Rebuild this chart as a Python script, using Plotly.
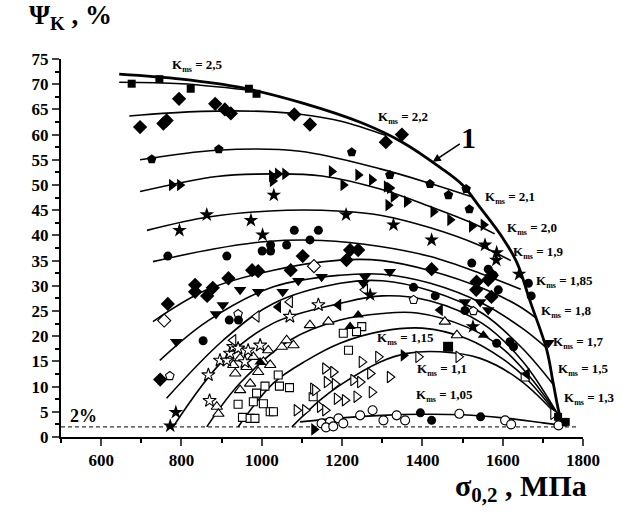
import plotly.graph_objects as go

FONT = "Liberation Serif, Times New Roman, serif"

# ---- envelope curve "1" ----
env_x = [645, 800, 950, 1100, 1250, 1350, 1444, 1500, 1544, 1600, 1636, 1668, 1710, 1726, 1743, 1752]
env_y = [72, 71, 69.3, 66.3, 62.3, 58.5, 53.5, 50, 45.5, 39.5, 34.5, 27, 17.2, 10.6, 4, 2.3]

# ---- K_ms curves ----
c1_x = [645, 800, 960]
c1_y = [70.4, 70.1, 68.9]
c2_x = [670, 850, 1000, 1100, 1200, 1310]
c2_y = [63.7, 64.6, 64.6, 64, 62.6, 59.8]
c3_x = [697, 888, 1095, 1295, 1420, 1525]
c3_y = [55, 56.9, 56.7, 53.2, 50.3, 47.6]
c4_x = [697, 888, 1030, 1150, 1295, 1420, 1520, 1580]
c4_y = [48.7, 51.7, 52.2, 51.8, 49.2, 45.7, 42.6, 40.3]
c5_x = [714, 871, 1062, 1200, 1295, 1420, 1543, 1620]
c5_y = [41, 43.7, 45, 44.8, 44, 41.5, 38, 35]
c6_x = [729, 880, 1013, 1150, 1295, 1420, 1543, 1645]
c6_y = [34.8, 37.3, 38.8, 39, 37.8, 35.8, 32.5, 29.3]
c7_x = [729, 863, 1029, 1195, 1300, 1420, 1550, 1640, 1685]
c7_y = [22.9, 29.2, 33.1, 35.1, 35, 33, 29.5, 26, 23.5]
c8_x = [746, 863, 1029, 1195, 1300, 1420, 1550, 1650, 1712]
c8_y = [15.2, 22.9, 29.8, 32.1, 32.3, 30.5, 26.5, 21.5, 17.5]
c9_x = [763, 904, 1029, 1195, 1300, 1420, 1550, 1650, 1727]
c9_y = [7.7, 19.2, 26.5, 30.5, 31, 29, 24.5, 17.5, 10.3]
c10_x = [779, 904, 1029, 1195, 1300, 1420, 1550, 1650, 1745]
c10_y = [2, 15.2, 22.6, 26.5, 28, 27, 22.5, 15, 3.5]
c11_x = [863, 946, 1070, 1195, 1300, 1387, 1511, 1593, 1668, 1745]
c11_y = [2, 10.7, 19.2, 23.2, 24.5, 24.6, 21.8, 18, 11.9, 3.5]
c12_x = [941, 1029, 1112, 1195, 1300, 1400, 1511, 1600, 1660, 1745]
c12_y = [2, 10.7, 15.2, 18.6, 21, 21.6, 19.5, 15.5, 11.5, 3.5]
c13_x = [1075, 1145, 1195, 1295, 1362, 1444, 1544, 1643, 1745]
c13_y = [2, 7.3, 10.3, 14.9, 16.6, 16.9, 15.6, 11.3, 3.5]
c14_x = [1095, 1200, 1300, 1400, 1500, 1600, 1700, 1760]
c14_y = [3, 3.8, 4.3, 4.5, 4.4, 3.8, 2.8, 2.2]

# ---- data points by symbol ----
sq_f_x = [676, 745, 823, 968, 987, 1738, 1757]
sq_f_y = [70.1, 71.0, 69.1, 69.1, 68.1, 4.0, 3.0]
rect_x = [1464]
rect_y = [17.9]
dia_f_x = [697, 755, 763, 794, 884, 908, 923, 1081, 1120, 1309, 1349,
           766, 834, 834, 864, 878, 917, 976, 991, 1072, 1102, 1211, 1220, 1240,
           1423, 1535, 1564, 1573, 1534, 1572, 747]
dia_f_y = [61.5, 62.2, 62.8, 67.1, 66.1, 65, 64.2, 64, 62, 58.5, 60,
           26.4, 30.2, 28.8, 28, 29.6, 31.5, 33.1, 32.9, 33.1, 35.9, 35.1, 37.1, 37.1,
           33.3, 30.8, 31.2, 32.1, 29.2, 27.8, 11.4]
pent_f_x = [726, 893, 1224, 1319, 1419, 1465, 1509, 1517]
pent_f_y = [55.1, 57.1, 56.5, 52, 50.2, 48, 49.2, 45.2]
tri_r_f_x = [776, 796, 1025, 1040, 1058, 1027, 1174, 1203, 1240, 1274, 1311, 1319, 1328,
             1315, 1361, 1427, 1469, 1523, 1552, 1353, 1130]
tri_r_f_y = [50, 50, 51.8, 52.2, 52.2, 50.8, 52.7, 50, 52, 51, 49.7, 49.4, 47.7,
             46, 46.7, 44.7, 43.1, 41.8, 42.1, 16.2, 1.5]
star_f_x = [795, 863, 973, 1002, 1030, 1210, 1328, 1423, 1556, 1585, 1584, 1641, 786, 772, 1270, 1526]
star_f_y = [41, 44.1, 43, 40.1, 48, 44.1, 42.1, 39.1, 38.1, 36.6, 35.1, 32.3, 4.9, 2.2, 28.2, 21.9]
circ_f_x = [766, 913, 1001, 1022, 1022, 1062, 1081, 1120, 1141, 1523, 1564, 1577, 1589, 1664, 1671,
            854, 919, 942, 1378, 1432, 1506, 1618, 1627, 1585, 1395, 1423, 1545]
circ_f_y = [35.9, 35.9, 36.9, 36.9, 38.1, 38.1, 41, 39.1, 41, 34.5, 33.3, 32.1, 29.2, 30.5, 28,
            19.1, 23.2, 23.2, 29.7, 28, 25.1, 18.9, 17.9, 18.6, 4.8, 3.3, 4]
tri_d_f_x = [787, 886, 903, 946, 991, 1052, 1091, 1149, 1257, 1253, 1319, 1506, 1544, 1564, 1714]
tri_d_f_y = [18.9, 24.4, 26.2, 29.2, 28.8, 28.8, 31, 31.8, 31.8, 30.5, 32.8, 26.8, 26.8, 25.2, 18.7]
dia_o_x = [757, 1130]
dia_o_y = [23.1, 33.9]
pent_o_x = [941, 1378, 1527, 771]
pent_o_y = [24.4, 27.2, 25, 12.1]
tri_l_f_x = [1191, 1041, 1660, 1444]
tri_l_f_y = [26.2, 25.8, 12.5, 25.2]
tri_l_o_x = [987, 1070, 929, 1257]
tri_l_o_y = [23.9, 26.8, 19.2, 29.2]
star_o_x = [867, 870, 896, 913, 921, 929, 941, 966, 996, 1070, 1141, 958]
star_o_y = [12.3, 7.2, 15.2, 15.2, 16.6, 17.9, 17.6, 17.2, 18.2, 23.9, 26.2, 14.9]
tri_u_f_x = [1240, 1220, 1552, 996]
tri_u_f_y = [24.2, 21.9, 20.2, 14.9]
tri_u_o_x = [888, 892, 929, 934, 946, 962, 971, 991, 1004, 1016, 1021, 1050, 1062, 1079, 1120,
             946, 979, 1166, 1456, 1486]
tri_u_o_y = [6, 4.6, 14.3, 12.6, 9.3, 13.9, 10.6, 12.9, 14.9, 17.2, 14.3, 17.9, 19.2, 18.2, 22.2,
             15.6, 15.9, 22.9, 22.9, 20.2]
sq_o_x = [941, 952, 971, 983, 987, 1004, 1008, 1021, 1029, 1041, 1044, 1069, 979, 1203, 1249,
          1236, 1216, 1128, 1656]
sq_o_y = [6.5, 3.9, 3.7, 3.7, 8.7, 6.6, 10.1, 5, 5, 12.3, 10.1, 9.8, 7, 20.6, 21.9,
          20.9, 17.2, 8, 11.9]
tri_r_o_x = [1158, 1178, 1162, 1182, 1228, 1245, 1249, 1290, 1270, 1319, 1274, 1187, 1207, 1236,
             1128, 1145, 1158, 1390, 1490, 1726, 1087, 1108, 1133]
tri_r_o_y = [13.6, 12.9, 10.9, 10.5, 11.3, 10.9, 14.9, 15.9, 12.6, 11.9, 8.9, 7.6, 7.3, 8,
             9.6, 6, 5.3, 15.9, 15.9, 4.6, 5.3, 5.3, 9.3]
circ_o_x = [1149, 1170, 1191, 1203, 1245, 1276, 1303, 1336, 1357, 1492, 1606, 1621, 1739, 1160, 1178]
circ_o_y = [2.7, 3, 3.7, 2.7, 4.3, 5.3, 3.3, 4.3, 3.3, 4.6, 3.3, 2.5, 2.3, 1.9, 2.1]

# ---- labels ----
k_labels = ["2,5", "2,2", "2,1", "2,0", "1,9", "1,85", "1,8", "1,7", "1,5", "1,3", "1,15", "1,1", "1,05"]
k_label_x = [841, 1352, 1618, 1673, 1688, 1755, 1760, 1790, 1800, 1815, 1357, 1449, 1456]
k_label_y = [73.7, 63.4, 47.5, 41.3, 36.7, 30.8, 25, 18.8, 13.3, 7.7, 19.6, 13.3, 8.3]

X_RANGE = [500, 1800]
Y_RANGE = [0, 75]
x_ticks = [600, 800, 1000, 1200, 1400, 1600, 1800]
y_ticks = [0, 5, 10, 15, 20, 25, 30, 35, 40, 45, 50, 55, 60, 65, 70, 75]

fig = go.Figure()

# 2% dashed line
fig.add_trace(go.Scatter(x=[500, 1783], y=[2, 2], mode="lines", cliponaxis=False,
                         line=dict(color="black", width=1, dash="4px,3px"), hoverinfo="skip"))

curves = [(c1_x, c1_y), (c2_x, c2_y), (c3_x, c3_y), (c4_x, c4_y), (c5_x, c5_y), (c6_x, c6_y),
          (c7_x, c7_y), (c8_x, c8_y), (c9_x, c9_y), (c10_x, c10_y), (c11_x, c11_y),
          (c12_x, c12_y), (c13_x, c13_y), (c14_x, c14_y)]
for cx, cy in curves:
    fig.add_trace(go.Scatter(x=cx, y=cy, mode="lines", line=dict(color="black", width=1.6,
                                                                  shape="spline", smoothing=1.0)))

fig.add_trace(go.Scatter(x=env_x, y=env_y, mode="lines",
                         line=dict(color="black", width=2.8, shape="spline", smoothing=1.0)))


def pts(x, y, symbol, size, open_=False):
    if open_:
        mk = dict(symbol=symbol, size=size, color="white", line=dict(color="black", width=1.1))
    else:
        mk = dict(symbol=symbol, size=size, color="black", line=dict(color="black", width=0))
    fig.add_trace(go.Scatter(x=x, y=y, mode="markers", marker=mk))


pts(sq_o_x, sq_o_y, "square", 8, True)
pts(tri_u_o_x, tri_u_o_y, "triangle-up", 10, True)
pts(tri_r_o_x, tri_r_o_y, "triangle-right", 10, True)
pts(star_o_x, star_o_y, "star", 10, True)
pts(circ_o_x, circ_o_y, "circle", 9, True)
pts(tri_l_o_x, tri_l_o_y, "triangle-left", 10, True)
pts(pent_o_x, pent_o_y, "pentagon", 9, True)
pts(dia_o_x, dia_o_y, "diamond", 10, True)
pts(sq_f_x, sq_f_y, "square", 8)
pts(rect_x, rect_y, "square", 10)
pts(dia_f_x, dia_f_y, "diamond", 11)
pts(pent_f_x, pent_f_y, "pentagon", 10)
pts(tri_r_f_x, tri_r_f_y, "triangle-right", 11)
pts(star_f_x, star_f_y, "star", 11)
pts(circ_f_x, circ_f_y, "circle", 9)
pts(tri_d_f_x, tri_d_f_y, "triangle-down", 11)
pts(tri_l_f_x, tri_l_f_y, "triangle-left", 11)
pts(tri_u_f_x, tri_u_f_y, "triangle-up", 10)


def px_(v):
    return (v - X_RANGE[0]) / (X_RANGE[1] - X_RANGE[0])


def py_(v):
    return (v - Y_RANGE[0]) / (Y_RANGE[1] - Y_RANGE[0])


ann = []
for t, lx, ly in zip(k_labels, k_label_x, k_label_y):
    ann.append(dict(x=px_(lx), y=py_(ly), xref="paper", yref="paper", showarrow=False,
                    xanchor="center", yanchor="middle",
                    text="K<sub><span style='font-size:8px'>ms</span></sub> = " + t,
                    font=dict(family=FONT, size=13, color="black", weight="bold")))

ann.append(dict(x=1426, y=54.6, xref="x", yref="y", text="1", showarrow=True,
                ax=36, ay=-24, arrowhead=2, arrowsize=1, arrowwidth=1.6, arrowcolor="black",
                font=dict(family=FONT, size=30, color="black", weight="bold")))
ann.append(dict(x=555, y=4.2, xref="x", yref="y", text="2%", showarrow=False,
                font=dict(family=FONT, size=18, color="black", weight="bold")))
ann.append(dict(x=-0.066, y=1.112, xref="paper", yref="paper", xanchor="left", yanchor="middle",
                text="Ψ<sub>K</sub> , %", showarrow=False,
                font=dict(family=FONT, size=27, color="black", weight="bold")))
ann.append(dict(x=0.75, y=-0.135, xref="paper", yref="paper", xanchor="left", yanchor="middle",
                text="σ<sub>0,2</sub> , МПа", showarrow=False,
                font=dict(family=FONT, size=30, color="black", weight="bold")))

axis_font = dict(family=FONT, size=17, color="black", weight="bold")
fig.update_layout(
    width=622, height=515, showlegend=False,
    margin=dict(l=61, r=39, t=59, b=78),
    paper_bgcolor="white", plot_bgcolor="white",
    font=dict(family=FONT, color="black"),
    annotations=ann,
    xaxis=dict(range=X_RANGE, tickvals=x_ticks, ticks="outside", ticklen=7, tickwidth=2,
               showline=True, linewidth=2, linecolor="black", showgrid=False, zeroline=False,
               tickfont=axis_font,
               minor=dict(tickvals=[500, 700, 900, 1100, 1300, 1500, 1700], ticks="outside",
                          ticklen=4, tickwidth=1.5, tickcolor="black")),
    yaxis=dict(range=Y_RANGE, tickvals=y_ticks, ticks="outside", ticklen=7, tickwidth=2,
               showline=True, linewidth=2, linecolor="black", showgrid=False, zeroline=False,
               tickfont=axis_font,
               minor=dict(dtick=2.5, ticks="outside", ticklen=4, tickwidth=1.5, tickcolor="black")),
)

fig.write_html("out.html", config={"displayModeBar": False},
               post_script="document.body.style.margin='0px';")
